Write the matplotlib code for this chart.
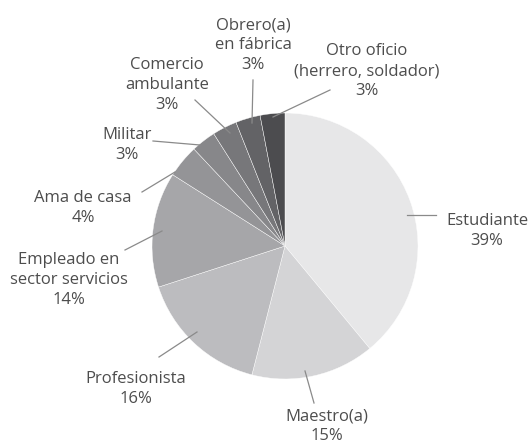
import matplotlib.pyplot as plt

# datos
ocupaciones = ['Estudiante', 'Maestro(a)', 'Profesionista', 'Empleado en\nsector servicios',
               'Ama de casa', 'Militar', 'Comercio\nambulante', 'Obrero(a)\nen fábrica',
               'Otro oficio\n(herrero, soldador)']
porcentajes = [39, 15, 16, 14, 4, 3, 3, 3, 3]
colores = ['#e7e7e8', '#d4d4d6', '#bcbcbf', '#a6a6a9', '#949497',
           '#87878a', '#77777a', '#636366', '#4c4c4f']

# posiciones de etiquetas (px, origen arriba-izquierda): texto, inicio y fin de la línea
pos_texto = [(487, 231), (327, 426), (136, 389), (69, 280), (83, 208),
             (127, 145), (167, 85), (253, 45), (367, 71)]
lineas = [((407, 215), (436, 215)), ((305, 371), (314, 403)), ((197, 332), (159, 357)),
          ((162, 231), (125, 250)), ((175, 172), (142, 192)), ((200, 145), (153, 141)),
          ((230, 133), (195, 100)), ((252, 123), (253, 80)), ((273, 117), (330, 90))]

W, H = 531, 447
fig = plt.figure(figsize=(W / 100, H / 100), dpi=100)
ax = fig.add_axes([0, 0, 1, 1])

ax.pie(porcentajes, colors=colores, startangle=90, counterclock=False,
       center=(285, H - 246), radius=133, frame=True,
       wedgeprops=dict(edgecolor='#ffffff', linewidth=0.3))
ax.set_xlim(0, W)
ax.set_ylim(0, H)
ax.axis('off')

for nombre, p, (tx, ty), ((x0, y0), (x1, y1)) in zip(ocupaciones, porcentajes, pos_texto, lineas):
    ax.plot([x0, x1], [H - y0, H - y1], color='#8a8a8a', lw=0.9)
    ax.text(tx, H - ty, '%s\n%d%%' % (nombre, p), ha='center', va='center',
            fontsize=12, color='#4d4d4d', family='Open Sans', linespacing=1.3)

fig.savefig('out.png', dpi=100)
